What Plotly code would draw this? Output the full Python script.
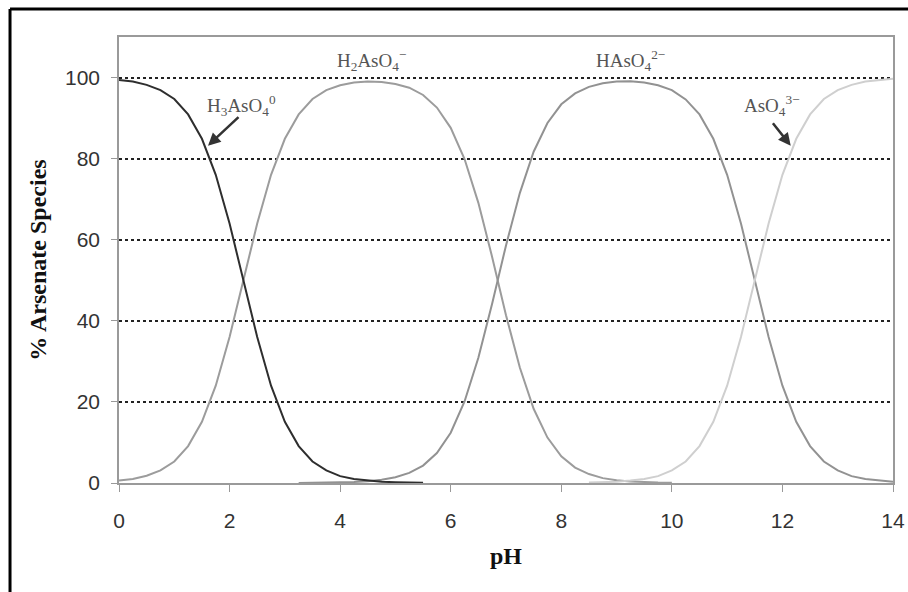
import plotly.graph_objects as go

# pH grid (0.25 steps)
ph = [i * 0.25 for i in range(57)]

# % species
h3aso4 = [99.4, 99.0, 98.2, 96.9, 94.7, 90.9, 84.9, 76.0, 64.0, 50.0,
          36.0, 24.0, 15.1, 9.1, 5.3, 3.1, 1.7, 1.0, 0.6, 0.3, 0.2, 0.1, 0.05]  # pH 0 - 5.5

h2aso4 = [0.6, 1.0, 1.8, 3.1, 5.3, 9.1, 15.1, 24.0, 36.0, 50.0,
          64.0, 76.0, 84.9, 90.9, 94.7, 96.9, 98.1, 98.8, 99.0, 98.9,
          98.4, 97.5, 95.7, 92.6, 87.6, 79.9, 69.1, 55.7, 41.4, 28.5,
          18.3, 11.2, 6.6, 3.8, 2.2, 1.2, 0.7, 0.4, 0.2, 0.1, 0.07]  # pH 0 - 10

haso4 = [0.01, 0.03, 0.06, 0.14, 0.25, 0.44, 0.79, 1.4, 2.5, 4.3,
         7.4, 12.4, 20.1, 30.9, 44.3, 58.6, 71.5, 81.7, 88.8, 93.4,
         96.1, 97.7, 98.6, 99.0, 99.1, 98.8, 98.1, 96.9, 94.6, 90.9,
         84.9, 76.0, 64.0, 50.0, 36.0, 24.0, 15.1, 9.1, 5.3, 3.1,
         1.7, 1.0, 0.6, 0.3]  # pH 3.25 - 14

aso4 = [0.1, 0.2, 0.3, 0.6, 1.0, 1.7, 3.1, 5.3, 9.1, 15.1,
        24.0, 36.0, 50.0, 64.0, 76.0, 84.9, 90.9, 94.7, 96.9, 98.2,
        99.0, 99.4, 99.7]  # pH 8.5 - 14

x_ticks = [0, 2, 4, 6, 8, 10, 12, 14]
y_ticks = [0, 20, 40, 60, 80, 100]

ph_h3 = ph[:len(h3aso4)]
ph_h2 = ph[:len(h2aso4)]
ph_h1 = ph[len(ph) - len(haso4):]
ph_a = ph[len(ph) - len(aso4):]

fig = go.Figure()
fig.add_trace(go.Scatter(x=ph_h2, y=h2aso4, mode="lines", line=dict(color="#9c9c9c", width=2), name="H2AsO4-"))
fig.add_trace(go.Scatter(x=ph_h1, y=haso4, mode="lines", line=dict(color="#929292", width=2), name="HAsO4 2-"))
fig.add_trace(go.Scatter(x=ph_a, y=aso4, mode="lines", line=dict(color="#cfcfcf", width=2), name="AsO4 3-"))
fig.add_trace(go.Scatter(x=ph_h3, y=h3aso4, mode="lines", line=dict(color="#2e2e2e", width=2), name="H3AsO4"))

lab_font = dict(family="Liberation Serif, Times New Roman, serif", size=19, color="#555555")
fig.add_annotation(x=2.21, y=93.1, text="H<sub>3</sub>AsO<sub>4</sub><sup>0</sup>", showarrow=False, font=lab_font)
fig.add_annotation(x=4.56, y=104.2, text="H<sub>2</sub>AsO<sub>4</sub><sup>−</sup>", showarrow=False, font=lab_font)
fig.add_annotation(x=9.26, y=104.2, text="HAsO<sub>4</sub><sup>2−</sup>", showarrow=False, font=lab_font)
fig.add_annotation(x=11.81, y=93.1, text="AsO<sub>4</sub><sup>3−</sup>", showarrow=False, font=lab_font)

fig.add_annotation(x=1.61, y=83.2, text="", showarrow=True, ax=32, ay=-30,
                   arrowhead=2, arrowsize=1, arrowwidth=2.5, arrowcolor="#333333")
fig.add_annotation(x=12.15, y=83.2, text="", showarrow=True, ax=-19, ay=-24,
                   arrowhead=2, arrowsize=1, arrowwidth=2.5, arrowcolor="#333333")

# outer frame (left and top edges of the figure box)
fig.add_shape(type="line", xref="paper", yref="paper", x0=-0.1408, x1=-0.1408, y0=-0.25, y1=1.0628,
              line=dict(color="black", width=3))
fig.add_shape(type="line", xref="paper", yref="paper", x0=-0.1408, x1=1.03, y0=1.0628, y1=1.0628,
              line=dict(color="black", width=3))

tick_font = dict(family="Liberation Sans, Arial, sans-serif", size=21, color="#333333")
title_font = dict(family="Liberation Serif, Times New Roman, serif", size=24, color="#111111")

fig.update_layout(
    width=908, height=592,
    margin=dict(l=119, r=15, t=37, b=109),
    paper_bgcolor="white", plot_bgcolor="white",
    showlegend=False,
    xaxis=dict(range=[0, 14], tickvals=x_ticks, ticks="outside", ticklen=7, tickcolor="#999999",
               showline=True, linecolor="#9a9a9a", linewidth=1.5, mirror=True, automargin=False,
               showgrid=False, zeroline=False, tickfont=tick_font, ticklabelstandoff=11,
               title=dict(text="<b>pH</b>", font=title_font, standoff=16)),
    yaxis=dict(range=[0, 110], tickvals=y_ticks, ticks="outside", ticklen=6, tickcolor="#999999",
               showline=True, linecolor="#9a9a9a", linewidth=1.5, mirror=True, automargin=False,
               showgrid=True, gridcolor="#222222", griddash="dot", gridwidth=1.5,
               zeroline=False, tickfont=tick_font, ticklabelstandoff=7,
               title=dict(text="<b>% Arsenate Species</b>", font=title_font, standoff=12)),
)

# remove the browser's default 8px body margin so the 908x592 figure fills the window exactly
fig.write_html("out.html", config={"displayModeBar": False},
               post_script="document.body.style.margin='0';document.body.style.overflow='hidden';")
